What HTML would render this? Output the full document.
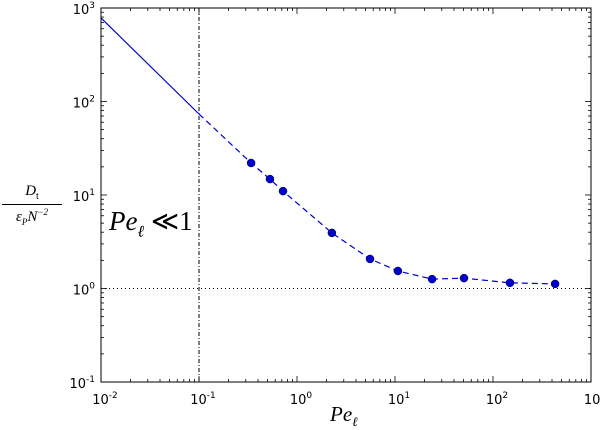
<!DOCTYPE html>
<html><head><meta charset="utf-8"><style>body{margin:0;background:#fff}svg{display:block}</style></head>
<body>
<svg id="chart" width="600" height="429" xmlns="http://www.w3.org/2000/svg" font-family="'DejaVu Sans','Liberation Sans',sans-serif"></svg>
<script>
const xs = [0.34, 0.53, 0.72, 2.27, 5.56, 10.7, 23.9, 50.6, 149, 430];
const ys = [22, 14.8, 11, 3.93, 2.07, 1.54, 1.26, 1.29, 1.15, 1.12];
const fitX = [0.01, 0.1];
const fitY = [782, 73.5];
const xTickExp = [-2, -1, 0, 1, 2, 3];
const yTickExp = [-1, 0, 1, 2, 3];
const L=101,R=591,T=8,B=382;
const sx=v=>L+(Math.log10(v)+2)/5*(R-L);
const sy=v=>B-(Math.log10(v)+1)/4*(B-T);
const svg=document.getElementById('chart');
const NS='http://www.w3.org/2000/svg';
function mk(tag,attrs,parent){const e=document.createElementNS(NS,tag);for(const k in attrs)e.setAttribute(k,attrs[k]);(parent||svg).appendChild(e);return e;}
// reference lines
let e=mk('line',{x1:L,x2:R,y1:sy(1),y2:sy(1),stroke:'#000','stroke-width':1,'stroke-dasharray':'1,3'});


e=mk('line',{x1:sx(0.1),x2:sx(0.1),y1:T,y2:B,stroke:'#000','stroke-width':1,'stroke-dasharray':'4,2,1,2'});


// fit solid
e=mk('line',{x1:sx(fitX[0]),y1:sy(fitY[0]),x2:sx(fitX[1]),y2:sy(fitY[1]),stroke:'#0000cc','stroke-width':1.2});


// dashed series
let d='M'+sx(fitX[1])+','+sy(fitY[1]);
xs.forEach((x,i)=>{d+=' L'+sx(x)+','+sy(ys[i]);});
e=mk('path',{d:d,fill:'none',stroke:'#0000cc','stroke-width':1.2,'stroke-dasharray':'6,4'});


xs.forEach((x,i)=>{const c=mk('circle',{cx:sx(x),cy:sy(ys[i]),r:4,fill:'#0000cc',stroke:'#000033','stroke-width':0.5});

});
// frame
e=mk('rect',{x:L,y:T,width:R-L,height:B-T,fill:'none',stroke:'#000','stroke-width':1});


// ticks
const g=mk('g',{stroke:'#000','stroke-width':0.8});


for(let p=-2;p<3;p++)for(let m=1;m<10;m++){const x=sx(m*Math.pow(10,p));const len=m==1?6:3;
mk('line',{x1:x,x2:x,y1:B,y2:B-len},g);mk('line',{x1:x,x2:x,y1:T,y2:T+len},g);}
for(let p=-1;p<3;p++)for(let m=1;m<10;m++){const y=sy(m*Math.pow(10,p));const len=m==1?6:3;
mk('line',{x1:L,x2:L+len,y1:y,y2:y},g);mk('line',{x1:R,x2:R-len,y1:y,y2:y},g);}
function lab(x,y,exp,anchor,name){const t=mk('text',{x:x,y:y,'font-size':13,'text-anchor':anchor});


t.appendChild(document.createTextNode('10'));const s=mk('tspan',{dy:-6,'font-size':9},t);s.textContent=exp;}
xTickExp.forEach(p=>lab(sx(Math.pow(10,p))+4,B+22,p,'middle','x-tick-label'));
yTickExp.forEach(p=>lab(L-6,sy(Math.pow(10,p))+6,p,'end','y-tick-label'));
</script>
<div style="position:absolute;left:330px;top:402px;font:italic 21px 'Liberation Serif',serif">Pe<sub style="font-size:13px">ℓ</sub></div>
<div style="position:absolute;left:2px;top:183px;width:60px;text-align:center;font:italic 15px 'Liberation Serif',serif">
<div style="border-bottom:1px solid #000;padding-bottom:2px">D<sub style="font-style:normal;font-size:10px">t</sub></div>
<div style="padding-top:2px">ε<sub style="font-size:9px">P</sub>N<sup style="font-size:9px">−2</sup></div></div>
<div style="position:absolute;left:109px;top:206px;font:italic 27px 'Liberation Serif',serif">Pe<sub style="font-size:16px">ℓ</sub><span style="font-style:normal"> ≪1</span></div>
</body></html>
